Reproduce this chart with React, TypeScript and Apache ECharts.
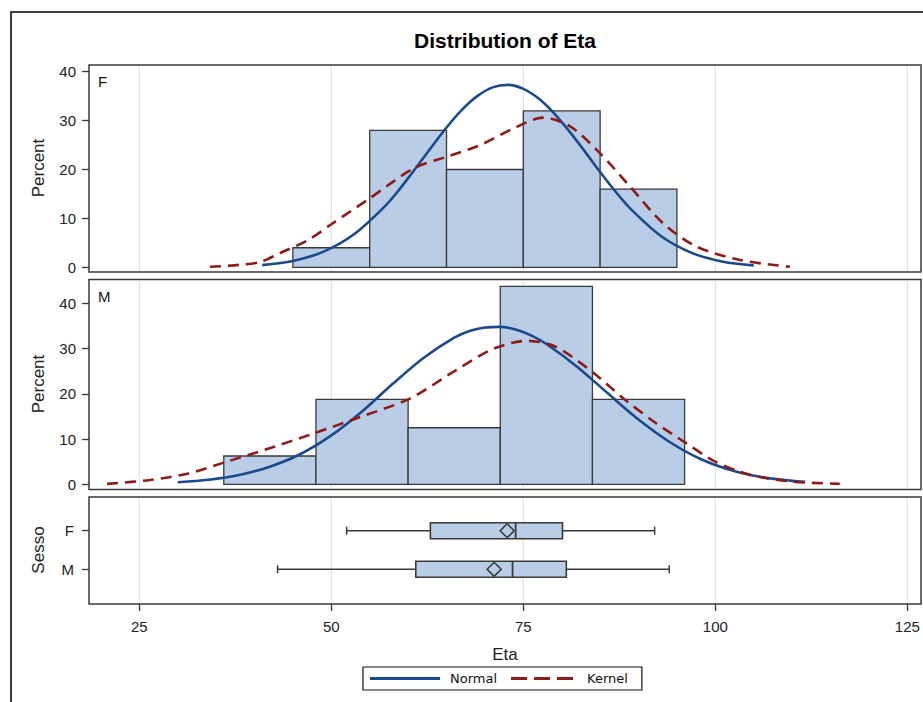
import React, { useEffect, useRef } from "react";
import * as echarts from "echarts";

// ---------- data ----------
const xTicks = [25, 50, 75, 100, 125];
const percentTicks = [0, 10, 20, 30, 40];

const fBinEdges = [45, 55, 65, 75, 85, 95];
const fPercent = [4, 28, 20, 32, 16];
const mBinEdges = [36, 48, 60, 72, 84, 96];
const mPercent = [6.25, 18.75, 12.5, 43.75, 18.75];

const fNormalX = [41, 45, 49, 53, 57, 59, 61, 63, 65, 67, 69, 71, 73, 75, 77, 79, 81, 83, 85, 87, 89, 93, 97, 101, 105];
const fNormalY = [0.45, 1.3, 3.2, 6.8, 12.5, 16.2, 20.3, 24.5, 28.6, 32.2, 35.0, 36.8, 37.3, 36.5, 34.5, 31.5, 27.8, 23.7, 19.5, 15.5, 11.9, 6.3, 2.9, 1.15, 0.4];

const fKernelX = [34.2, 38, 40.8, 43.3, 47, 50, 55, 60.7, 65, 69.4, 73.7, 77.6, 81.1, 85, 88.9, 93.2, 97.6, 103.2, 109.7];
const fKernelY = [0.1, 0.5, 1.1, 2.9, 5.6, 8.8, 14.1, 20.2, 22.6, 25.0, 28.4, 30.6, 28.8, 23.3, 16.5, 9.0, 4.2, 1.5, 0.1];

const mNormalX = [30, 34, 38, 42, 46, 50, 54, 58, 62, 66, 68, 70, 72, 74, 76, 78, 82, 86, 90, 94, 98, 102, 106, 110, 111.7];
const mNormalY = [0.45, 1.0, 2.05, 3.9, 6.7, 10.8, 16.1, 22.2, 27.9, 32.4, 33.9, 34.65, 34.8, 34.2, 32.9, 31.0, 26.0, 20.1, 14.3, 9.4, 5.65, 3.15, 1.6, 0.76, 0.54];

const mKernelX = [20.8, 26.4, 31.4, 36.4, 41.3, 47.8, 53.8, 60.3, 66.3, 71.2, 75.5, 79.2, 84, 88.2, 92.2, 96.2, 100, 104.5, 110, 116.2];
const mKernelY = [0.1, 0.95, 2.4, 5.0, 7.6, 11.3, 14.9, 19.0, 25.3, 30.0, 31.7, 30.4, 24.8, 18.75, 13.6, 9.1, 5.0, 2.1, 0.6, 0.1];

const boxGroups = ["F", "M"];
const boxPos = [2, 1];
const boxMin = [52.0, 43.0];
const boxQ1 = [62.9, 61.0];
const boxMedian = [74.0, 73.6];
const boxQ3 = [80.1, 80.6];
const boxMax = [92.1, 94.0];
const boxMean = [72.9, 71.2];

const legendNames = ["Normal", "Kernel"];

// ---------- styles ----------
const FONT = '"Liberation Sans", Arial, sans-serif';
const BAR_FILL = "#B9CEE6";
const EDGE = "#3a3a3a";
const NORMAL_COLOR = "#1B4A8C";
const KERNEL_COLOR = "#8E1B1B";
const GRID_LINE = "#e3e3e3";
const SOLID_ICON = "path://M0,0h70v3h-70z";
const DASH_ICON = "path://M0,0h16v3h-16z M23,0h16v3h-16z M46,0h16v3h-16z";

const zip = (xs: number[], ys: number[]) => xs.map((x, i) => [x, ys[i]]);

export default function App() {
  const ref = useRef<HTMLDivElement>(null);

  useEffect(() => {
    if (!ref.current) return;
    const chart = echarts.init(ref.current, null, { renderer: "svg" });

    const grids = [
      { left: 89, top: 65, width: 832, height: 207 },
      { left: 89, top: 279.5, width: 832, height: 210 },
      { left: 89, top: 497, width: 832, height: 107 },
    ].map((g) => ({ ...g, show: true, borderColor: EDGE, borderWidth: 1.5, backgroundColor: "transparent" }));

    const xAxisBase = {
      type: "value",
      min: 18.45,
      max: 126.78,
      splitLine: { show: false },
      axisLine: { show: false },
    };
    const xAxes = [0, 1, 2].map((i) => ({
      ...xAxisBase,
      gridIndex: i,
      axisTick:
        i === 2
          ? { show: true, customValues: xTicks, length: 7, lineStyle: { color: EDGE, width: 1.3 } }
          : { show: false },
      axisLabel:
        i === 2
          ? { show: true, customValues: xTicks, margin: 15, fontSize: 15, fontFamily: FONT, color: "#222" }
          : { show: false },
    }));

    const yAxisPct = (i: number, min: number, max: number) => ({
      type: "value",
      gridIndex: i,
      min,
      max,
      splitLine: { show: false },
      axisLine: { show: false },
      axisTick: { show: true, customValues: percentTicks, length: 7, lineStyle: { color: EDGE, width: 1.3 } },
      axisLabel: { customValues: percentTicks, margin: 13, fontSize: 15, fontFamily: FONT, color: "#222" },
    });

    const yAxes = [
      yAxisPct(0, -0.96, 41.37),
      yAxisPct(1, -1.15, 45.26),
      {
        type: "value",
        gridIndex: 2,
        min: 0.101,
        max: 2.873,
        splitLine: { show: false },
        axisLine: { show: false },
        axisTick: { show: true, customValues: boxPos, length: 7, lineStyle: { color: EDGE, width: 1.3 } },
        axisLabel: {
          customValues: boxPos,
          margin: 15,
          fontSize: 15,
          fontFamily: FONT,
          color: "#222",
          formatter: (v: number) => boxGroups[boxPos.indexOf(v)] ?? "",
        },
      },
    ];

    const gridLineSeries = [0, 1, 2].map((i) => ({
      type: "custom",
      xAxisIndex: i,
      yAxisIndex: i,
      silent: true,
      z: 1,
      data: xTicks.map((v) => [v]),
      encode: { x: 0 },
      renderItem: (params: any, api: any) => {
        const cs = params.coordSys;
        const x = api.coord([api.value(0), 0])[0];
        return {
          type: "line",
          shape: { x1: x, y1: cs.y + 1, x2: x, y2: cs.y + cs.height - 1 },
          style: { stroke: GRID_LINE, lineWidth: 1.2 },
        };
      },
    }));

    const histSeries = (i: number, edges: number[], pct: number[]) => ({
      type: "custom",
      xAxisIndex: i,
      yAxisIndex: i,
      silent: true,
      z: 2,
      data: pct.map((p, k) => [edges[k], edges[k + 1], p]),
      encode: { x: [0, 1], y: 2 },
      renderItem: (params: any, api: any) => {
        const p0 = api.coord([api.value(0), api.value(2)]);
        const p1 = api.coord([api.value(1), 0]);
        return {
          type: "rect",
          shape: { x: p0[0], y: p0[1], width: p1[0] - p0[0], height: p1[1] - p0[1] },
          style: { fill: BAR_FILL, stroke: EDGE, lineWidth: 1.3 },
        };
      },
    });

    const curve = (i: number, name: string, xs: number[], ys: number[], color: string, dashed: boolean) => ({
      type: "line",
      name,
      xAxisIndex: i,
      yAxisIndex: i,
      data: zip(xs, ys),
      smooth: 0.3,
      symbol: "none",
      showSymbol: false,
      silent: true,
      z: 3,
      lineStyle: { color, width: 2.6, type: dashed ? [11, 7] : "solid" },
      itemStyle: { color },
    });

    const boxSeries = {
      type: "custom",
      xAxisIndex: 2,
      yAxisIndex: 2,
      silent: true,
      z: 3,
      data: boxGroups.map((g, k) => [boxPos[k], boxMin[k], boxQ1[k], boxMedian[k], boxQ3[k], boxMax[k], boxMean[k]]),
      encode: { x: [1, 2, 3, 4, 5, 6], y: 0 },
      renderItem: (params: any, api: any) => {
        const yv = api.value(0);
        const px = (d: number) => api.coord([api.value(d), yv])[0];
        const cy = api.coord([api.value(1), yv])[1];
        const xMin = px(1), xQ1 = px(2), xMed = px(3), xQ3 = px(4), xMax = px(5), xMean = px(6);
        const ls = { stroke: EDGE, lineWidth: 1.5 };
        const hb = 8, hc = 4, hd = 7;
        return {
          type: "group",
          children: [
            { type: "line", shape: { x1: xMin, y1: cy, x2: xQ1, y2: cy }, style: ls },
            { type: "line", shape: { x1: xQ3, y1: cy, x2: xMax, y2: cy }, style: ls },
            { type: "line", shape: { x1: xMin, y1: cy - hc, x2: xMin, y2: cy + hc }, style: ls },
            { type: "line", shape: { x1: xMax, y1: cy - hc, x2: xMax, y2: cy + hc }, style: ls },
            {
              type: "rect",
              shape: { x: xQ1, y: cy - hb, width: xQ3 - xQ1, height: 2 * hb },
              style: { fill: BAR_FILL, stroke: EDGE, lineWidth: 1.6 },
            },
            { type: "line", shape: { x1: xMed, y1: cy - hb, x2: xMed, y2: cy + hb }, style: { stroke: EDGE, lineWidth: 1.8 } },
            {
              type: "polygon",
              shape: { points: [[xMean - hd, cy], [xMean, cy - hd], [xMean + hd, cy], [xMean, cy + hd]] },
              style: { fill: "none", stroke: EDGE, lineWidth: 1.6 },
            },
          ],
        };
      },
    };

    const option: any = {
      animation: false,
      backgroundColor: "#ffffff",
      textStyle: { fontFamily: FONT },
      grid: grids,
      xAxis: xAxes,
      yAxis: yAxes,
      legend: {
        data: [
          { name: legendNames[0], icon: SOLID_ICON },
          { name: legendNames[1], icon: DASH_ICON },
        ],
        left: 363,
        top: 667,
        orient: "horizontal",
        borderColor: "#111",
        borderWidth: 1.2,
        padding: [5, 14, 5, 7],
        itemGap: 14,
        itemWidth: 70,
        itemHeight: 3,
        selectedMode: false,
        textStyle: { fontFamily: '"DejaVu Sans", sans-serif', fontSize: 13, color: "#111", padding: [0, 0, 0, 5] },
      },
      graphic: [
        {
          type: "polyline",
          silent: true,
          shape: { points: [[11, 702], [11, 12], [923, 12]] },
          style: { stroke: "#000", lineWidth: 1.5, fill: "none" },
        },
        {
          type: "text",
          x: 505,
          y: 40,
          style: {
            text: "Distribution of Eta",
            fontSize: 21,
            fontWeight: "bold",
            fontFamily: FONT,
            fill: "#000",
            align: "center",
            verticalAlign: "middle",
          },
        },
        {
          type: "text",
          x: 38,
          y: 168,
          rotation: Math.PI / 2,
          style: { text: "Percent", fontSize: 17, fontFamily: FONT, fill: "#222", align: "center", verticalAlign: "middle" },
        },
        {
          type: "text",
          x: 38,
          y: 384,
          rotation: Math.PI / 2,
          style: { text: "Percent", fontSize: 17, fontFamily: FONT, fill: "#222", align: "center", verticalAlign: "middle" },
        },
        {
          type: "text",
          x: 38,
          y: 550,
          rotation: Math.PI / 2,
          style: { text: "Sesso", fontSize: 17, fontFamily: FONT, fill: "#222", align: "center", verticalAlign: "middle" },
        },
        {
          type: "text",
          x: 505,
          y: 654,
          style: { text: "Eta", fontSize: 17, fontFamily: FONT, fill: "#222", align: "center", verticalAlign: "middle" },
        },
        {
          type: "text",
          x: 98,
          y: 81,
          style: { text: "F", fontSize: 15, fontFamily: FONT, fill: "#111", align: "left", verticalAlign: "middle" },
        },
        {
          type: "text",
          x: 98,
          y: 296,
          style: { text: "M", fontSize: 15, fontFamily: FONT, fill: "#111", align: "left", verticalAlign: "middle" },
        },
      ],
      series: [
        ...gridLineSeries,
        histSeries(0, fBinEdges, fPercent),
        histSeries(1, mBinEdges, mPercent),
        curve(0, legendNames[0], fNormalX, fNormalY, NORMAL_COLOR, false),
        curve(0, legendNames[1], fKernelX, fKernelY, KERNEL_COLOR, true),
        curve(1, legendNames[0], mNormalX, mNormalY, NORMAL_COLOR, false),
        curve(1, legendNames[1], mKernelX, mKernelY, KERNEL_COLOR, true),
        boxSeries,
      ],
    };

    chart.setOption(option);
    return () => chart.dispose();
  }, []);

  return (
    <div
      ref={ref}
      style={{ position: "absolute", left: 0, top: 0, width: 923, height: 702, background: "#fff" }}
    />
  );
}
